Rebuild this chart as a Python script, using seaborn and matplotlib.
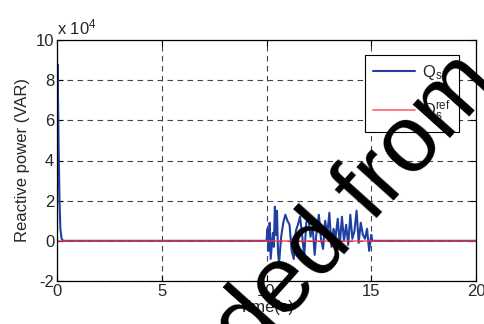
import numpy as np
import pandas as pd
import seaborn as sns
import matplotlib.pyplot as plt
from matplotlib.ticker import FuncFormatter

# start-up transient (time in s, reactive power in VAR)
t_start = [0.0, 0.02, 0.05, 0.08, 0.12, 0.16, 0.22, 0.3]
q_start = [0, 88000, 70000, 45000, 20000, 6000, 1000, 0]

# disturbance window between 10 s and 15 s (values in 1e4 VAR)
t_dist = [10.0, 10.05, 10.1, 10.15, 10.2, 10.3, 10.35, 10.4, 10.45, 10.5,
          10.55, 10.6, 10.7, 10.8, 10.9, 11.0, 11.1, 11.2, 11.3, 11.4,
          11.5, 11.6, 11.7, 11.8, 11.9, 12.0, 12.1, 12.2, 12.3, 12.4,
          12.5, 12.6, 12.7, 12.8, 12.9, 13.0, 13.1, 13.2, 13.3, 13.4,
          13.5, 13.6, 13.7, 13.8, 13.9, 14.0, 14.1, 14.2, 14.3, 14.4,
          14.5, 14.6, 14.7, 14.8, 14.9, 15.0, 15.05]
q_dist = [0, 0.6, -0.5, 0.9, -0.9, 0.4, -0.3, 1.7, 0.3, 1.5,
          -0.6, -1.1, 0.2, 0.9, 1.3, 1.0, 0.8, -0.5, -0.9, 0.5,
          0.8, 1.2, 0.3, -0.8, 0.9, 1.2, 0.2, 0.7, -0.7, 0.6,
          1.3, 0.1, -0.4, 1.0, 0.3, 1.4, -0.3, 0.6, 0.2, 1.1,
          -0.2, 1.2, 0.0, 0.8, -0.2, 1.3, 0.1, 0.5, 1.5, -0.1,
          0.9, 0.3, 0.1, 0.6, -0.5, 0.3, 0]

t_s = t_start + t_dist + [20.0]
q_s = q_start + [v * 1e4 for v in q_dist] + [0]
df_s = pd.DataFrame({'t': t_s, 'q': q_s})
df_ref = pd.DataFrame({'t': [0, 20], 'q': [0, 0]})

sns.set_style('white')
plt.rcParams['font.family'] = ['Liberation Sans', 'DejaVu Sans']
plt.rcParams['mathtext.fontset'] = 'custom'
plt.rcParams['mathtext.rm'] = 'Liberation Sans'
plt.rcParams['mathtext.it'] = 'Liberation Sans'

fig = plt.figure(figsize=(4.84, 3.24), dpi=100)
ax = fig.add_axes([57/484, 1 - 281/324, 419/484, 241/324])

sns.lineplot(data=df_s, x='t', y='q', ax=ax, color='#2040a0', lw=1.5,
             label=r'$\mathregular{Q_s}$', estimator=None, sort=False)
sns.lineplot(data=df_ref, x='t', y='q', ax=ax, color='#ff3344', lw=1.3,
             alpha=0.7, label=r'$\mathregular{Q_s^{ref}}$', estimator=None)

ax.set_xlim(0, 20)
ax.set_ylim(-20000, 100000)
ax.set_xticks([0, 5, 10, 15, 20])
ax.set_yticks(np.arange(-20000, 100001, 20000))
ax.yaxis.set_major_formatter(FuncFormatter(lambda v, p: '%d' % round(v / 1e4)))
ax.grid(True, color='#444444', ls=(0, (5, 4)), lw=0.8)
ax.tick_params(labelsize=12, direction='in', length=4, left=True, bottom=True, top=True, right=True,
               color='black', pad=2)
for s in ax.spines.values():
    s.set_color('black')
    s.set_linewidth(0.9)
ax.set_xlabel('Time(s)', fontsize=12, labelpad=1)
ax.set_ylabel('Reactive power (VAR)', fontsize=12, labelpad=4)
ax.text(0, 1.01, r'x 10$^{\mathregular{4}}$', transform=ax.transAxes, fontsize=12, va='bottom')

leg = ax.legend(loc='upper left', bbox_to_anchor=(0.735, 0.938), fontsize=12, handlelength=2.5,
                handletextpad=0.4, labelspacing=1.0, frameon=True, fancybox=False,
                borderpad=0.5, borderaxespad=0, framealpha=1)
leg.get_frame().set_edgecolor('black')
leg.get_frame().set_linewidth(0.8)

# watermark overlaid on the source image
fig.text(356/484, 1 - 206/324, 'ded from', fontsize=68, rotation=48,
         color='black', ha='center', va='center', zorder=10)

fig.savefig('out.png', dpi=100)
